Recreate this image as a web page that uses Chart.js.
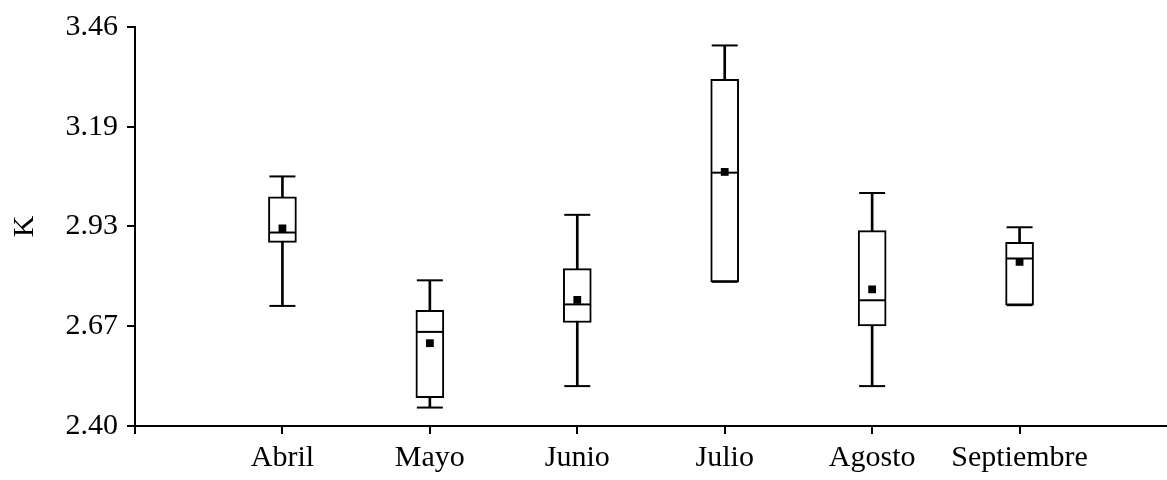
<!DOCTYPE html>
<html>
<head>
<meta charset="utf-8">
<script src="https://cdn.jsdelivr.net/npm/chart.js@4"></script>
<style>
  html, body { margin: 0; padding: 0; background: #fff; }
  #wrap { width: 1167px; height: 480px; }
</style>
</head>
<body>
<div id="wrap"><canvas id="boxChart"></canvas></div>
<script>
// datos
var categories = ["Abril", "Mayo", "Junio", "Julio", "Agosto", "Septiembre"];
var minVals    = [2.719, 2.449, 2.506, 2.783, 2.506, 2.721];
var q1Vals     = [2.888, 2.475, 2.675, 2.783, 2.666, 2.721];
var medianVals = [2.914, 2.650, 2.723, 3.073, 2.734, 2.845];
var q3Vals     = [3.009, 2.707, 2.818, 3.321, 2.919, 2.888];
var maxVals    = [3.063, 2.787, 2.961, 3.411, 3.019, 2.928];
var meanVals   = [2.925, 2.620, 2.735, 3.075, 2.763, 2.836];
var yTicks      = [2.40, 2.665, 2.93, 3.195, 3.46];
var yTickLabels = ["2.40", "2.67", "2.93", "3.19", "3.46"];

function pts(vals) {
  return vals.map(function (v, i) { return { x: i + 1, y: v }; });
}
function ranges(lo, hi) {
  return lo.map(function (v, i) { return { x: i + 1, y: [v, hi[i]] }; });
}

Chart.defaults.font.family = "'Liberation Serif', 'Times New Roman', serif";
Chart.defaults.font.size = 30;
Chart.defaults.color = "#000";

var ctx = document.getElementById("boxChart");
new Chart(ctx, {
  type: "bar",
  data: {
    datasets: [
      {
        // bigotes
        type: "bar",
        data: ranges(minVals, maxVals),
        backgroundColor: "#000",
        borderWidth: 0,
        barThickness: 2,
        grouped: false,
        order: 5,
      },
      {
        // cajas
        type: "bar",
        data: ranges(q1Vals, q3Vals),
        backgroundColor: "#fff",
        borderColor: "#000",
        borderWidth: 2,
        borderSkipped: false,
        barThickness: 28,
        grouped: false,
        order: 4,
      },
      {
        // extremos
        type: "scatter",
        data: pts(maxVals).concat(pts(minVals)),
        pointStyle: "line",
        radius: 13,
        borderColor: "#000",
        borderWidth: 2,
        order: 3,
      },
      {
        // mediana
        type: "scatter",
        data: pts(medianVals),
        pointStyle: "line",
        radius: 13,
        borderColor: "#000",
        borderWidth: 2,
        order: 2,
      },
      {
        // media
        type: "scatter",
        data: pts(meanVals),
        pointStyle: "rect",
        radius: 5.5,
        backgroundColor: "#000",
        borderWidth: 0,
        order: 1,
      },
    ],
  },
  options: {
    responsive: true,
    maintainAspectRatio: false,
    animation: false,
    layout: { autoPadding: false, padding: { top: 24, right: 0, bottom: 0, left: 0 } },
    plugins: { legend: { display: false }, tooltip: { enabled: false } },
    scales: {
      x: {
        type: "linear",
        min: 0,
        max: 7,
        offset: false,
        afterBuildTicks: function (scale) {
          scale.ticks = [0, 1, 2, 3, 4, 5, 6].map(function (v) { return { value: v }; });
        },
        afterFit: function (scale) {
          scale.height = 54;
          scale.paddingLeft = 0;
          scale.paddingRight = 0;
        },
        ticks: {
          autoSkip: false,
          maxRotation: 0,
          padding: 6,
          callback: function (v) { return categories[v - 1] || ""; },
        },
        grid: { offset: false, drawOnChartArea: false, drawTicks: true, tickLength: 8, color: "#000", lineWidth: 2 },
        border: { display: true, color: "#000", width: 2 },
      },
      y: {
        min: 2.40,
        max: 3.46,
        afterBuildTicks: function (scale) {
          scale.ticks = yTicks.map(function (v) { return { value: v }; });
        },
        afterFit: function (scale) { scale.width = 135; },
        ticks: {
          padding: 9,
          callback: function (v, i) { return yTickLabels[i]; },
        },
        title: { display: true, text: "K", padding: { top: 7, bottom: 0 } },
        grid: { drawOnChartArea: false, drawTicks: true, tickLength: 8, color: "#000", lineWidth: 2 },
        border: { display: true, color: "#000", width: 2 },
      },
    },
  },
});
</script>
</body>
</html>
